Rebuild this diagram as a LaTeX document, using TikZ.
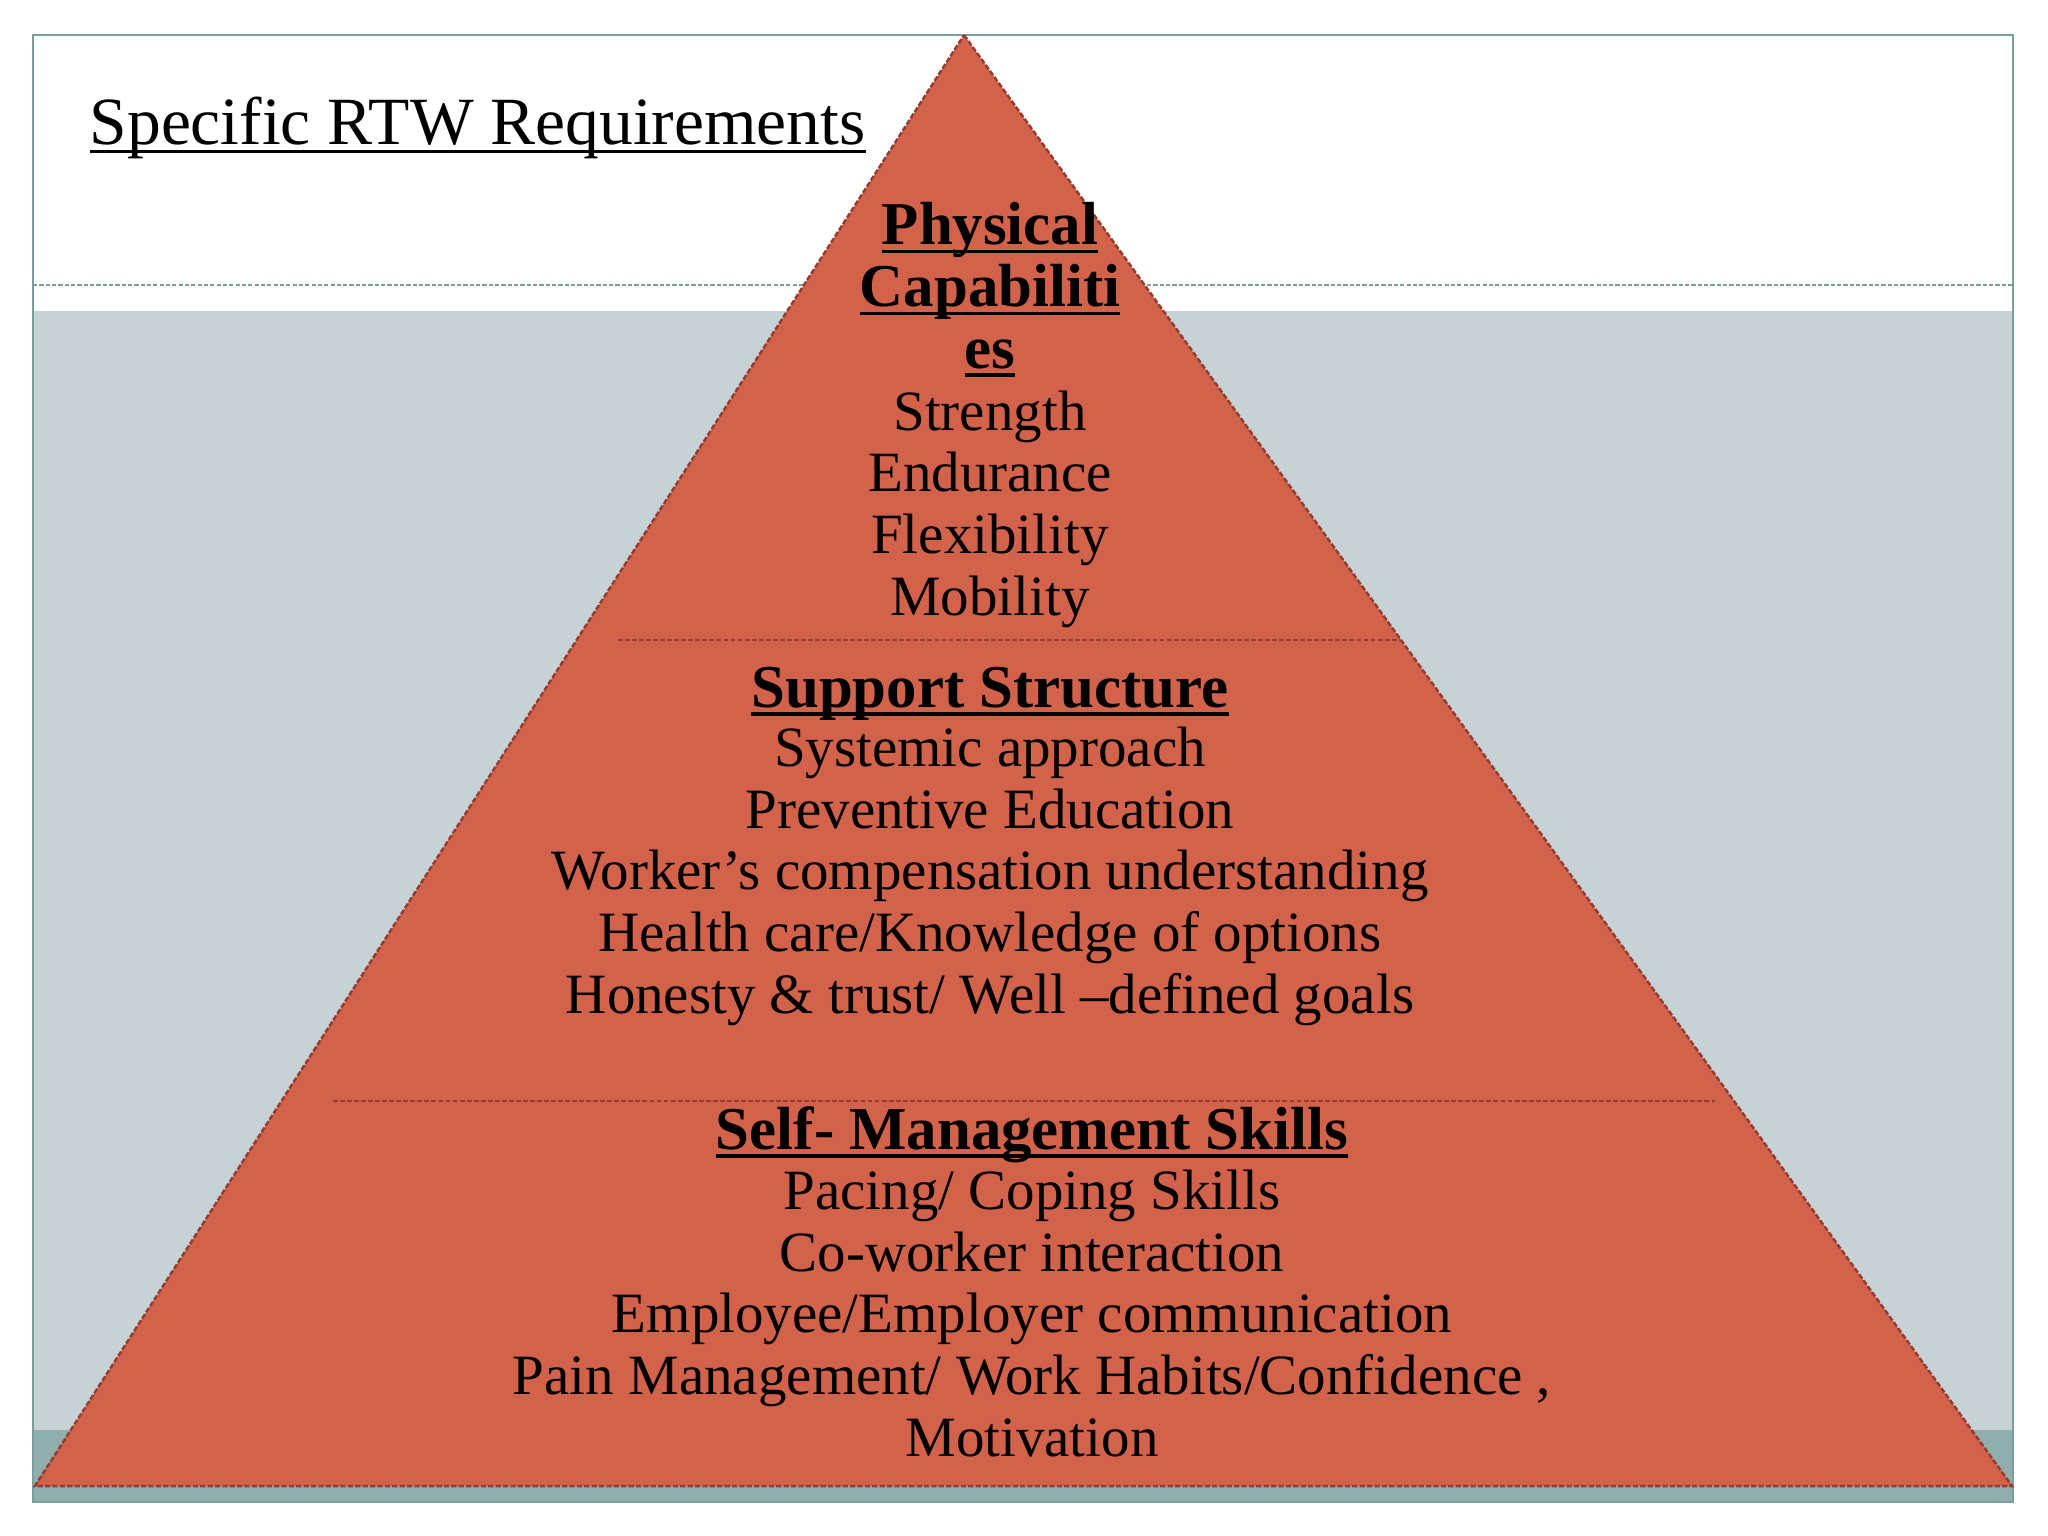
\documentclass[tikz,border=0pt]{standalone}
\usepackage{fontspec}
\setmainfont{Liberation Serif}
\usepackage{xcolor}
\usepackage{tikz}
\definecolor{pyrfill}{RGB}{211,98,74}
\definecolor{pyredge}{RGB}{150,60,48}
\definecolor{bandgrey}{RGB}{198,210,214}
\definecolor{bandteal}{RGB}{143,174,173}
\definecolor{frameline}{RGB}{122,158,158}
\newsavebox{\undlbox}
\newcommand{\undl}[1]{\leavevmode\sbox{\undlbox}{#1}\rlap{\rule[-0.14em]{\wd\undlbox}{0.055em}}\usebox{\undlbox}}
\tikzset{
  tierhead/.style={anchor=base,align=center,font=\bfseries\fontsize{17.3}{17.5}\selectfont},
  tierlist/.style={anchor=base,align=center,font=\fontsize{16.2}{17.5}\selectfont},
  tiersep/.style={draw=pyredge,line width=0.6pt,dash pattern=on 1.4pt off 0.6pt},
  pyredgeline/.style={draw=pyredge,line width=0.7pt,dash pattern=on 1.5pt off 0.6pt}
}

\begin{document}
\begin{tikzpicture}[x=0.01cm,y=-0.01cm]
\useasboundingbox (0,0) rectangle (2048,1536);
% slide background
\fill[bandgrey] (33,311) rectangle (2013,1430);
\fill[bandteal] (33,1430) rectangle (2013,1502);
\draw[frameline,line width=0.6pt,dash pattern=on 1.2pt off 0.6pt] (33,285) -- (2013,285);
\draw[frameline,line width=0.7pt] (33,35) rectangle (2013,1502);
\node[anchor=base west,inner sep=0pt,font=\fontsize{19.2}{22}\selectfont] (title) at (89,144) {\undl{Specific RTW Requirements}};
% pyramid
\coordinate (apex) at (964,35);
\coordinate (baseL) at (35,1486);
\coordinate (baseR) at (2012,1486);
\fill[pyrfill] (apex) -- (baseR) -- (baseL) -- cycle;
\draw[pyredgeline] (apex) -- (baseR) -- (baseL) -- cycle;
\coordinate (sepAL) at (618,640);
\coordinate (sepAR) at (1400,640);
\coordinate (sepBL) at (333,1101);
\coordinate (sepBR) at (1715,1101);
\draw[tiersep] (sepAL) -- (sepAR);
\draw[tiersep] (sepBL) -- (sepBR);
% tiers (base = last line)
\node[tierhead] (physhead) at (990,368) {\undl{Physical}\\\undl{Capabiliti}\\\undl{es}};
\node[tierlist] (physlist) at (990,615) {Strength\\Endurance\\Flexibility\\Mobility};
\node[tierhead] (supphead) at (990,707) {\undl{Support Structure}};
\node[tierlist] (supplist) at (990,1013) {Systemic approach\\Preventive Education\\Worker’s compensation understanding\\Health care/Knowledge of options\\Honesty \& trust/ Well –defined goals};
\node[tierhead] (selfhead) at (1032,1149) {\undl{Self- Management Skills}};
\node[tierlist] (selflist) at (1032,1456) {Pacing/ Coping Skills\\Co-worker interaction\\Employee/Employer communication\\Pain Management/ Work Habits/Confidence ,\\Motivation};
\end{tikzpicture}
\end{document}
